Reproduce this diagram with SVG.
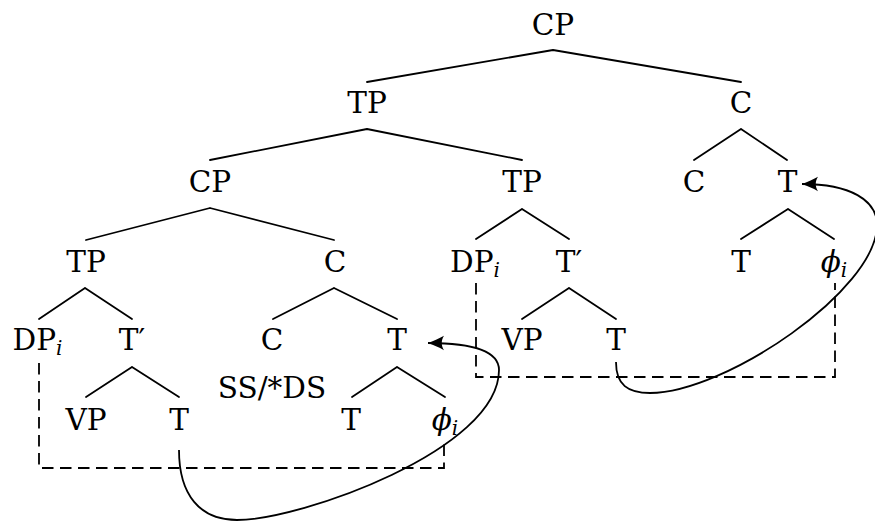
<svg xmlns="http://www.w3.org/2000/svg" width="875" height="522" viewBox="0 0 875 522">
<style>
  text{font-family:"DejaVu Serif",serif;font-size:29.5px;fill:#000;text-anchor:middle}
  .sub{font-size:20px;font-style:italic}
  .it{font-style:italic}
  .edge{stroke:#000;stroke-width:1.8;fill:none;stroke-linecap:round}
  .dash{stroke:#000;stroke-width:1.8;fill:none;stroke-dasharray:11.5 6.5}
  .move{stroke:#000;stroke-width:1.8;fill:none}
</style>
<defs>
  <marker id="ah" markerUnits="userSpaceOnUse" viewBox="-19 -9 21 18" markerWidth="21" markerHeight="18" refX="0" refY="0" orient="auto">
    <path d="M0,0 C-5,-1.7 -11,-4.3 -16,-7.2 C-13,-3 -13,3 -16,7.2 C-11,4.3 -5,1.7 0,0 Z" fill="#000"/>
  </marker>
</defs>
<rect width="875" height="522" fill="#fff"/>
<g id="connectors">
  <path class="edge" d="M553,50 L367,82 M553,50 L741,82"/>
  <path class="edge" d="M367,129 L210,160 M367,129 L522,160"/>
  <path class="edge" d="M741,129 L694,160 M741,129 L787,160"/>
  <path class="edge" d="M210,208 L86,240 M210,208 L334,240"/>
  <path class="edge" d="M522,209 L476,239 M522,209 L569,239"/>
  <path class="edge" d="M788,209 L741,239 M788,209 L834,239"/>
  <path class="edge" d="M85,288 L39,319 M85,288 L132,319"/>
  <path class="edge" d="M334,288 L273,319 M334,288 L397,319"/>
  <path class="edge" d="M569,288 L522,319 M569,288 L616,319"/>
  <path class="edge" d="M132,367 L86,397 M132,367 L179,397"/>
  <path class="edge" d="M397,367 L352,397 M397,367 L445,397"/>
  <path class="dash" d="M39,363 V468 H444 V442"/>
  <path class="dash" d="M476,283 V377 H835 V283"/>
  <path class="move" d="M179,450 C179,495 200,520 237,520 C300,520 499,450 499,370 C499,350 470,343 428,343" marker-end="url(#ah)"/>
  <path class="move" d="M616,362 C616,385 628,393 650,393 C725,393 877,290 877,225 C877,200 850,184 802,184" marker-end="url(#ah)"/>
</g>
<g id="n-cp1"><text x="553" y="35">CP</text></g>
<g id="n-tp2"><text x="367" y="113">TP</text></g>
<g id="n-c2"><text x="741" y="113">C</text></g>
<g id="n-cp3"><text x="210" y="192">CP</text></g>
<g id="n-tp3"><text x="522" y="192">TP</text></g>
<g id="n-c3"><text x="694" y="192">C</text></g>
<g id="n-t3"><text x="787.5" y="192">T</text></g>
<g id="n-tp4"><text x="86" y="271.5">TP</text></g>
<g id="n-c4"><text x="335" y="271.5">C</text></g>
<g id="n-dp4"><text x="475" y="271.5">DP<tspan class="sub" dy="5">i</tspan></text></g>
<g id="n-tbar4"><text x="569" y="271.5">T′</text></g>
<g id="n-t4"><text x="741" y="271.5">T</text></g>
<g id="n-phi4"><text x="834" y="271.5"><tspan class="it">ϕ</tspan><tspan class="sub" dy="5">i</tspan></text></g>
<g id="n-dp5"><text x="37.5" y="350">DP<tspan class="sub" dy="5">i</tspan></text></g>
<g id="n-tbar5"><text x="132" y="350">T′</text></g>
<g id="n-c5"><text x="272" y="350">C</text></g>
<g id="n-t5"><text x="397" y="350">T</text></g>
<g id="n-vp5"><text x="522" y="350">VP</text></g>
<g id="n-t5b"><text x="616" y="350">T</text></g>
<g id="n-ss"><text x="272" y="398">SS/*DS</text></g>
<g id="n-vp6"><text x="86" y="430">VP</text></g>
<g id="n-t6"><text x="179" y="430">T</text></g>
<g id="n-t6b"><text x="351" y="430">T</text></g>
<g id="n-phi6"><text x="445" y="430"><tspan class="it">ϕ</tspan><tspan class="sub" dy="5">i</tspan></text></g>
</svg>
